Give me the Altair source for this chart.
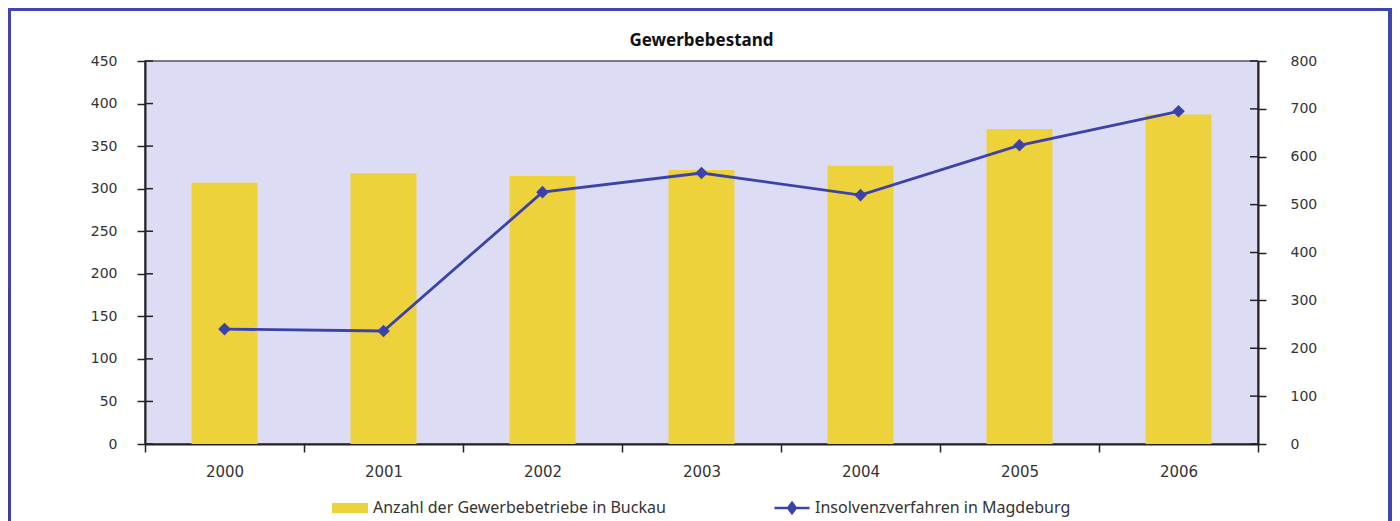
import altair as alt
import pandas as pd

years = ["2000", "2001", "2002", "2003", "2004", "2005", "2006"]
betriebe = [307, 318, 315, 322, 327, 370, 387]
insolvenz = [240, 236, 526, 566, 520, 624, 695]
left_ticks = [0, 50, 100, 150, 200, 250, 300, 350, 400, 450]
right_ticks = [0, 100, 200, 300, 400, 500, 600, 700, 800]

BAR_NAME = "Anzahl der Gewerbebetriebe in Buckau"
LINE_NAME = "Insolvenzverfahren in Magdeburg"
YELLOW = "#EDD23B"
BLUE = "#3C43A8"
FRAME = "#3F47AE"
FONT = "Noto Sans"
TICKFONT = "DejaVu Sans"

W, H = 1113, 383

df = pd.DataFrame({"Jahr": years, "Betriebe": betriebe, "Insolvenz": insolvenz,
                   "sb": [BAR_NAME] * len(years), "sl": [LINE_NAME] * len(years)})
dl = pd.DataFrame({"v": left_ticks})
dr = pd.DataFrame({"v": right_ticks})
one = pd.DataFrame({"a": [0]})

axis_common = dict(tickSize=8, grid=False, domainColor="#222", domainWidth=2,
                   tickColor="#222", tickWidth=1.5, labelFontSize=14,
                   labelColor="#333", labelFont=TICKFONT, title=None)

left_axis = alt.Axis(values=left_ticks, labelPadding=20, **axis_common)
right_axis = alt.Axis(orient="right", values=right_ticks, labelPadding=24, **axis_common)

xenc = alt.X("Jahr:N", sort=years, title=None,
             scale=alt.Scale(paddingInner=0, paddingOuter=0),
             axis=alt.Axis(tickBand="extent", labelAngle=0, tickSize=8, labelPadding=12,
                           domainColor="#222", domainWidth=2, tickColor="#222", tickWidth=1.5,
                           labelFontSize=15, labelColor="#333", labelFont=TICKFONT))

bars = alt.Chart(df).mark_bar(width=alt.RelativeBandSize(0.415)).encode(
    x=xenc,
    y=alt.Y("Betriebe:Q", title=None, scale=alt.Scale(domain=[0, 450], nice=False), axis=left_axis),
    color=alt.Color("sb:N", scale=alt.Scale(domain=[BAR_NAME], range=[YELLOW]),
                    legend=alt.Legend(title=None, orient="none", legendX=187, legendY=429,
                                      symbolType="M-1,-0.28H1V0.28H-1Z", symbolSize=1296,
                                      symbolStrokeWidth=0, labelFontSize=16, labelFont=FONT,
                                      labelColor="#333", padding=0, labelOffset=5, labelLimit=500)),
)

lticks = alt.Chart(dl).mark_rule(color="#222", strokeWidth=1.5).encode(
    y=alt.Y("v:Q", title=None, scale=alt.Scale(domain=[0, 450], nice=False), axis=left_axis),
    x=alt.value(0), x2=alt.value(8))

frame_top = alt.Chart(one).mark_rect(color=FRAME).encode(
    x=alt.value(-137), x2=alt.value(1247), y=alt.value(-53), y2=alt.value(-50))
frame_left = alt.Chart(one).mark_rect(color=FRAME).encode(
    x=alt.value(-137), x2=alt.value(-134), y=alt.value(-53), y2=alt.value(460))
frame_right = alt.Chart(one).mark_rect(color=FRAME).encode(
    x=alt.value(1243), x2=alt.value(1247), y=alt.value(-53), y2=alt.value(460))
frame_dark = alt.Chart(one).mark_rect(color="#393E9E").encode(
    x=alt.value(-137), x2=alt.value(-135), y=alt.value(228), y2=alt.value(460))

left = alt.layer(frame_top, frame_left, frame_right, frame_dark, bars, lticks)

line = alt.Chart(df).mark_line(color=BLUE, strokeWidth=2.8,
                               point=alt.OverlayMarkDef(shape="diamond", size=160, filled=True, color=BLUE)).encode(
    x=alt.X("Jahr:N", sort=years),
    y=alt.Y("Insolvenz:Q", title=None, scale=alt.Scale(domain=[0, 800], nice=False), axis=right_axis),
    color=alt.Color("sl:N", scale=alt.Scale(domain=[LINE_NAME], range=[BLUE]),
                    legend=alt.Legend(title=None, orient="none", legendX=628, legendY=428,
                                      symbolType="M-1,0H1M0,-0.3L0.22,0L0,0.3L-0.22,0Z",
                                      symbolSize=1225, symbolStrokeWidth=2.5,
                                      symbolFillColor=BLUE, symbolStrokeColor=BLUE,
                                      labelFontSize=16, labelFont=FONT,
                                      labelColor="#333", padding=0, labelOffset=4, labelLimit=500)),
)

rticks = alt.Chart(dr).mark_rule(color="#222", strokeWidth=1.5).encode(
    y=alt.Y("v:Q", title=None, scale=alt.Scale(domain=[0, 800], nice=False), axis=right_axis),
    x=alt.value(W - 8), x2=alt.value(W))

right = alt.layer(line, rticks)

chart = alt.layer(left, right).resolve_scale(y="independent", color="independent").properties(
    width=W, height=H,
    padding={"left": 137, "top": 53, "right": 134, "bottom": 77},
    autosize=alt.AutoSizeParams(type="none"),
    title=alt.Title("Gewerbebestand", fontSize=17, fontWeight="bold", font=FONT, color="#111",
                    offset=0, dy=42),
).configure_view(fill="#DCDCF5", stroke="#555", strokeWidth=1.5)

chart.save("out.html", embed_options={"renderer": "svg", "actions": False})
